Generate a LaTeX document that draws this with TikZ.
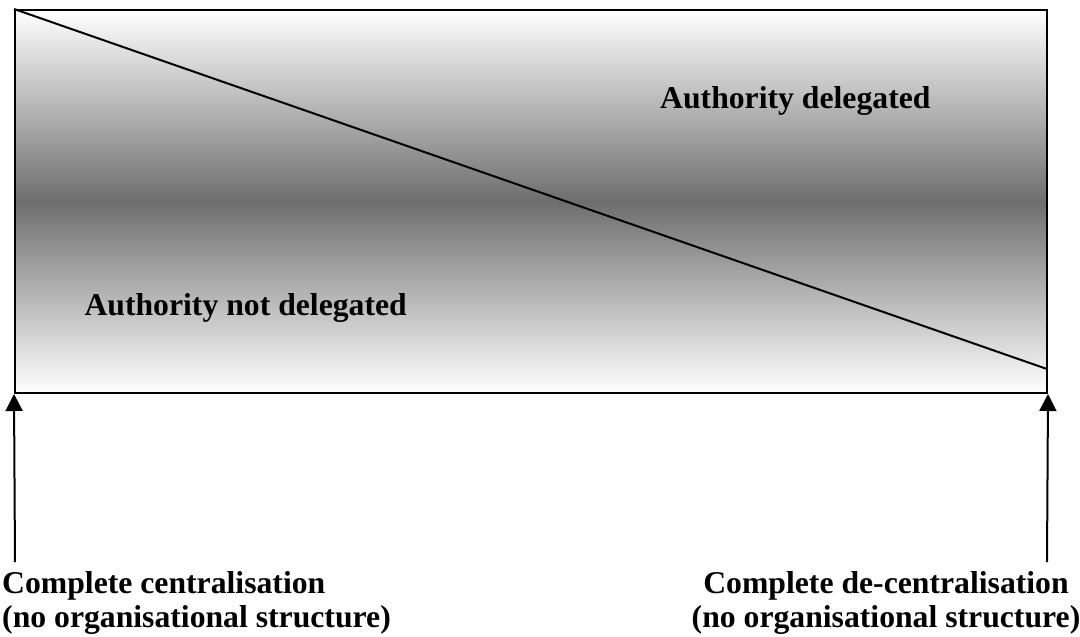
\documentclass[tikz,border=0pt]{standalone}
\usepackage{fontspec}
\setmainfont{Liberation Serif}
\usetikzlibrary{arrows.meta}
\definecolor{midgray}{RGB}{110,110,110}
\tikzset{
  lbl/.style={font=\fontsize{31.7}{34}\selectfont\bfseries, inner sep=0pt},
  ln/.style={line width=2pt, draw=black},
  upar/.style={ln, -{Triangle[width=17pt,length=17pt]}}
}
\begin{document}
\begin{tikzpicture}[x=1pt,y=-1pt]
\useasboundingbox (0,0) rectangle (1080,637);
\node[ln, draw, inner sep=0pt, minimum width=1032pt, minimum height=383pt,
      top color=white, bottom color=white, middle color=midgray] (box) at (531,201.5) {};
\coordinate (dend) at (1047,369);
\draw[ln] (box.north west) -- (dend);
\node[lbl, anchor=base west] (deleg) at (660,108) {Authority delegated};
\node[lbl, anchor=base east] (notdeleg) at (407,315) {Authority not delegated};
\coordinate (lfoot) at (15,562);
\coordinate (rfoot) at (1047,562);
\draw[upar] (lfoot) -- (box.south west);
\draw[upar] (rfoot) -- (box.south east);
\node[lbl, anchor=base west, align=left] (cc) at (2,627) {Complete centralisation\\(no organisational structure)};
\node[lbl, anchor=base, align=center] (cd) at (886,627) {Complete de-centralisation\\(no organisational structure)};
\end{tikzpicture}
\end{document}
